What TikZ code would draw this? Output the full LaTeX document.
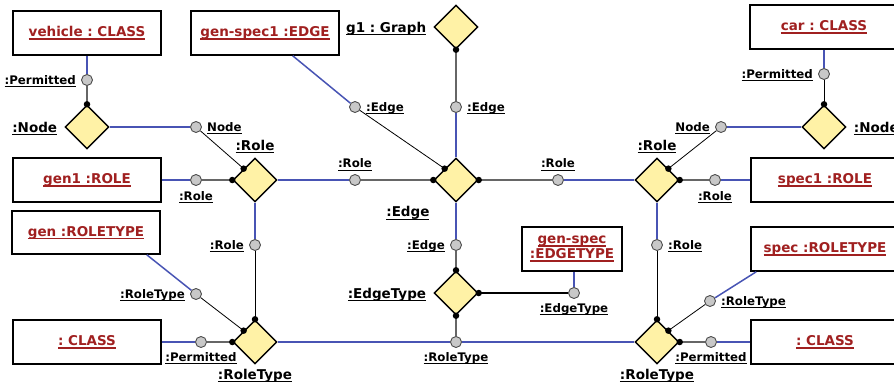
\documentclass[tikz,border=0pt]{standalone}
\usepackage{fontspec}
\setmainfont{DejaVu Sans}
\usetikzlibrary{shapes.geometric,positioning}
\definecolor{linkblue}{RGB}{72,84,180}
\definecolor{boxred}{RGB}{160,32,32}
\definecolor{diamfill}{RGB}{255,242,166}
\definecolor{portfill}{RGB}{200,200,200}
\newcommand{\lbl}[1]{\setbox0=\hbox{#1}\rlap{\rule[-3pt]{\wd0}{1.3pt}}\box0}
\frenchspacing

\begin{document}
\begin{tikzpicture}[x=1pt,y=-1pt]

    \tikzset{
      box/.style={draw, line width=1.6pt, fill=white, minimum width=148pt,
        minimum height=44pt, inner sep=0pt, text=boxred,
        font=\fontsize{13.5}{15}\selectfont\bfseries},
      diam/.style={draw, line width=1.4pt, fill=diamfill, diamond,
        minimum width=44pt, minimum height=44pt, inner sep=0pt},
      port/.style={circle, draw=black!70, fill=portfill, line width=0.9pt,
        minimum size=11pt, inner sep=0pt},
      dlab/.style={inner sep=1pt, font=\fontsize{13.5}{15}\selectfont\bfseries},
      plab/.style={inner sep=1pt, font=\fontsize{11.8}{14}\selectfont\bfseries},
      side/.style={yshift=-1.5pt},
      blue line/.style={draw=linkblue, line width=1.5pt},
      gray line/.style={draw=black!60, line width=1.3pt},
      thin line/.style={draw=black, line width=0.8pt},
      dot/.style={circle, fill=black, minimum size=6.5pt, inner sep=0pt},
    }

    \useasboundingbox (0,0) rectangle (894,386);

    % boxes
    \node[box] (vehicle) at (87,33) {\lbl{vehicle : CLASS}};
    \node[box] (genspecone) at (265,33) {\lbl{gen-spec1 :EDGE}};
    \node[box] (car) at (824,27) {\lbl{car : CLASS}};
    \node[box] (genone) at (87,180) {\lbl{gen1 :ROLE}};
    \node[box] (specone) at (825,180) {\lbl{spec1 :ROLE}};
    \node[box, minimum height=43pt] (genrt) at (86,232.5) {\lbl{gen :ROLETYPE}};
    \node[box] (specrt) at (825,249) {\lbl{spec :ROLETYPE}};
    \node[box] (classL) at (87,342) {\lbl{: CLASS}};
    \node[box] (classR) at (825,342) {\lbl{: CLASS}};
    \node[box, minimum width=100pt, align=center] (gsEt) at (572,249)
      {\lbl{gen-spec}\\\lbl{:EDGETYPE}};

    % diamonds
    \node[diam] (g1) at (456,27) {};
    \node[diam] (nodeL) at (87,127) {};
    \node[diam] (roleL) at (255,180) {};
    \node[diam] (edge) at (456,180) {};
    \node[diam] (roleR) at (657,180) {};
    \node[diam] (nodeR) at (824,127) {};
    \node[diam] (edgetype) at (456,293) {};
    \node[diam] (rtL) at (255,342) {};
    \node[diam] (rtR) at (657,342) {};

    \node[dlab, left=6pt of g1, side] (lG1) {\lbl{g1 : Graph}};
    \node[dlab, left=6pt of nodeL, side] (lNodeL) {\lbl{:Node}};
    \node[dlab, above=3pt of roleL] (lRoleL) {\lbl{:Role}};
    \node[dlab, below left=14pt and 14pt of edge.south west] (lEdge) {\lbl{:Edge}};
    \node[dlab, above=3pt of roleR] (lRoleR) {\lbl{:Role}};
    \node[dlab, right=6pt of nodeR, side] (lNodeR) {\lbl{:Node}};
    \node[dlab, left=6pt of edgetype, side] (lEdgeType) {\lbl{:EdgeType}};
    \node[dlab, below=3pt of rtL] (lRtL) {\lbl{:RoleType}};
    \node[dlab, below=3pt of rtR] (lRtR) {\lbl{:RoleType}};

    % ports
    \node[port] (pPermL) at (87,80) {};
    \node[port] (pNodeL) at (196,127) {};
    \node[port] (pRoleGen) at (196,180) {};
    \node[port] (pRoleL) at (355,180) {};
    \node[port] (pEdgeGs) at (355,107) {};
    \node[port] (pEdgeG) at (456,107) {};
    \node[port] (pRoleR) at (558,180) {};
    \node[port] (pNodeR) at (721,127) {};
    \node[port] (pPermR) at (824,74) {};
    \node[port] (pRoleSpec) at (715,180) {};
    \node[port] (pRoleLd) at (255,245) {};
    \node[port] (pEdgeEt) at (456,245) {};
    \node[port] (pRoleRd) at (657,245) {};
    \node[port] (pRtGen) at (196,294) {};
    \node[port] (pEtGs) at (574,293) {};
    \node[port] (pRtSpec) at (710,301) {};
    \node[port] (pPermCl) at (201,342) {};
    \node[port] (pRt) at (456,342) {};
    \node[port] (pPermCr) at (711,342) {};

    \node[plab, left=4pt of pPermL, side] (lPermL) {\lbl{:Permitted}};
    \node[plab, right=4pt of pNodeL, side] (lNodeL2) {\lbl{Node}};
    \node[plab, below=4pt of pRoleGen] (lRoleGen) {\lbl{:Role}};
    \node[plab, above=2pt of pRoleL] (lRoleL2) {\lbl{:Role}};
    \node[plab, right=4pt of pEdgeGs, side] (lEdgeGs) {\lbl{:Edge}};
    \node[plab, right=4pt of pEdgeG, side] (lEdgeG) {\lbl{:Edge}};
    \node[plab, above=2pt of pRoleR] (lRoleR2) {\lbl{:Role}};
    \node[plab, left=4pt of pNodeR, side] (lNodeR2) {\lbl{Node}};
    \node[plab, left=4pt of pPermR, side] (lPermR) {\lbl{:Permitted}};
    \node[plab, below=4pt of pRoleSpec] (lRoleSpec) {\lbl{:Role}};
    \node[plab, left=4pt of pRoleLd, side] (lRoleLd) {\lbl{:Role}};
    \node[plab, left=4pt of pEdgeEt, side] (lEdgeEt) {\lbl{:Edge}};
    \node[plab, right=4pt of pRoleRd, side] (lRoleRd) {\lbl{:Role}};
    \node[plab, left=4pt of pRtGen, side] (lRtGen) {\lbl{:RoleType}};
    \node[plab, below=3pt of pEtGs] (lEtGs) {\lbl{:EdgeType}};
    \node[plab, right=4pt of pRtSpec, side] (lRtSpec) {\lbl{:RoleType}};
    \node[plab, below=3pt of pPermCl] (lPermCl) {\lbl{:Permitted}};
    \node[plab, below=3pt of pRt] (lRt) {\lbl{:RoleType}};
    \node[plab, below=3pt of pPermCr] (lPermCr) {\lbl{:Permitted}};

    \coordinate (genrtA) at ([xshift=-14pt]genrt.south east);
    \coordinate (specrtA) at ([xshift=6pt]specrt.south west);

    % links
    \draw[blue line] (vehicle) -- (pPermL);
    \draw[gray line] (pPermL) -- (nodeL.north);
    \draw[blue line] (nodeL.east) -- (pNodeL);
    \draw[thin line] (pNodeL) -- (roleL.north west);
    \draw[blue line] (genone) -- (pRoleGen);
    \draw[gray line] (pRoleGen) -- (roleL.west);
    \draw[blue line] (roleL.east) -- (pRoleL);
    \draw[gray line] (pRoleL) -- (edge.west);
    \draw[blue line] (genspecone) -- (pEdgeGs);
    \draw[thin line] (pEdgeGs) -- (edge.north west);
    \draw[gray line] (g1.south) -- (pEdgeG);
    \draw[blue line] (pEdgeG) -- (edge.north);
    \draw[gray line] (edge.east) -- (pRoleR);
    \draw[blue line] (pRoleR) -- (roleR.west);
    \draw[thin line] (roleR.north east) -- (pNodeR);
    \draw[blue line] (pNodeR) -- (nodeR.west);
    \draw[blue line] (car) -- (pPermR);
    \draw[thin line] (pPermR) -- (nodeR.north);
    \draw[gray line] (roleR.east) -- (pRoleSpec);
    \draw[blue line] (pRoleSpec) -- (specone);
    \draw[blue line] (roleL.south) -- (pRoleLd);
    \draw[thin line] (pRoleLd) -- (rtL.north);
    \draw[blue line] (edge.south) -- (pEdgeEt);
    \draw[gray line] (pEdgeEt) -- (edgetype.north);
    \draw[blue line] (roleR.south) -- (pRoleRd);
    \draw[thin line] (pRoleRd) -- (rtR.north);
    \draw[blue line] (genrtA) -- (pRtGen);
    \draw[thin line] (pRtGen) -- (rtL.north west);
    \draw[thin line, line width=1.1pt] (edgetype.east) -- (pEtGs);
    \draw[blue line] (pEtGs) -- (pEtGs |- gsEt.south);
    \draw[blue line] (specrtA) -- (pRtSpec);
    \draw[thin line] (pRtSpec) -- (rtR.north east);
    \draw[blue line] (classL) -- (pPermCl);
    \draw[gray line] (pPermCl) -- (rtL.west);
    \draw[blue line] (rtL.east) -- (pRt);
    \draw[blue line] (pRt) -- (rtR.west);
    \draw[gray line] (edgetype.south) -- (pRt);
    \draw[blue line] (classR) -- (pPermCr);
    \draw[gray line] (pPermCr) -- (rtR.east);

    % ends on the diamonds
    \foreach \p in {nodeL.north, roleL.north west, roleL.west, edge.west,
      edge.east, edge.north west, g1.south, roleR.north east, roleR.east,
      nodeR.north, edgetype.north, edgetype.east, edgetype.south, rtL.north,
      rtL.north west, rtL.west, rtR.north, rtR.north east, rtR.east}
      \node[dot] at (\p) {};

\end{tikzpicture}
\end{document}
